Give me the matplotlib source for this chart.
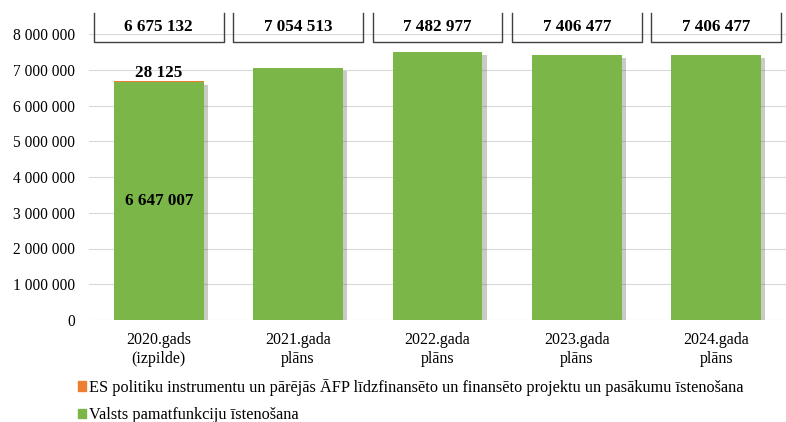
import numpy as np
import matplotlib.pyplot as plt
import matplotlib.patheffects as pe
from matplotlib.lines import Line2D
import matplotlib.transforms as mtransforms

plt.rcParams['font.family'] = ['Liberation Serif', 'DejaVu Serif']

# ── data ──────────────────────────────────────────────────────────
categories = ['2020.gads\n(izpilde)', '2021.gada\nplāns', '2022.gada\nplāns',
              '2023.gada\nplāns', '2024.gada\nplāns']
pamatfunkcijas = [6647007, 7054513, 7482977, 7406477, 7406477]
es_projekti = [28125, 0, 0, 0, 0]
totals = [6675132, 7054513, 7482977, 7406477, 7406477]

label_es = 'ES politiku instrumentu un pārējās ĀFP līdzfinansēto un finansēto projektu un pasākumu īstenošana'
label_pf = 'Valsts pamatfunkciju īstenošana'

green = '#7AB648'
orange = '#ED7D31'

def fmt(v):
    return f'{v:,.0f}'.replace(',', ' ')

# ── plot ──────────────────────────────────────────────────────────
fig = plt.figure(figsize=(7.86, 4.22), dpi=100)
ax = fig.add_axes([89 / 786, 1 - 320 / 422, 1 - 89 / 786, (320 - 34) / 422])

x = np.arange(len(categories))
shadow = [pe.SimplePatchShadow(offset=(3, -2), alpha=0.25), pe.Normal()]
b1 = ax.bar(x, pamatfunkcijas, width=0.645, color=green, zorder=3, label=label_pf)
for r in b1:
    r.set_path_effects(shadow)
b2 = ax.bar(x, es_projekti, width=0.645, bottom=pamatfunkcijas, color=orange,
            zorder=3, label=label_es)

ax.set_ylim(0, 8000000)
ax.set_xlim(-0.5, len(categories) - 0.5)
ax.set_yticks(np.arange(0, 8000001, 1000000))
ax.set_yticklabels([fmt(v) for v in np.arange(0, 8000001, 1000000)], fontsize=11.2)
ax.set_xticks(x)
ax.set_xticklabels(categories, fontsize=11.5, linespacing=1.2)
ax.tick_params(axis='y', length=0, pad=10)
ax.tick_params(axis='x', length=0, pad=9)
ax.grid(axis='y', color='#d9d9d9', linewidth=0.8, zorder=0)
for s in ax.spines.values():
    s.set_visible(False)

# data labels for 2020
ax.text(x[0], pamatfunkcijas[0] + es_projekti[0] + 15000, fmt(es_projekti[0]),
        ha='center', va='bottom', fontsize=12.3, fontweight='bold', zorder=5)
ax.text(x[0], pamatfunkcijas[0] / 2, fmt(pamatfunkcijas[0]),
        ha='center', va='center', fontsize=12.3, fontweight='bold', zorder=5)

# total boxes on top (open at the top)
trans = mtransforms.blended_transform_factory(ax.transData, fig.transFigure)
y_top = 1 - 13 / 422
y_bot = 1 - 42 / 422
for xi, t in zip(x, totals):
    x0, x1 = xi - 0.465, xi + 0.465
    ln = Line2D([x0, x0, x1, x1], [y_top, y_bot, y_bot, y_top], color='#404040',
                linewidth=1.0, transform=trans, clip_on=False)
    fig.add_artist(ln)
    fig.text(xi, 1 - 27 / 422, fmt(t), transform=trans,
             ha='center', va='center', fontsize=12.3, fontweight='bold')

# legend
h_es = plt.Rectangle((0, 0), 1, 1, color=orange)
h_pf = plt.Rectangle((0, 0), 1, 1, color=green)
fig.legend([h_es, h_pf], [label_es, label_pf], loc='upper left',
           bbox_to_anchor=(78 / 786, 1 - 379 / 422), frameon=False,
           fontsize=11.7, handlelength=0.5, handleheight=0.5,
           handletextpad=0.2, labelspacing=0.7, borderaxespad=0,
           borderpad=0)

fig.savefig('out.png', dpi=100)
